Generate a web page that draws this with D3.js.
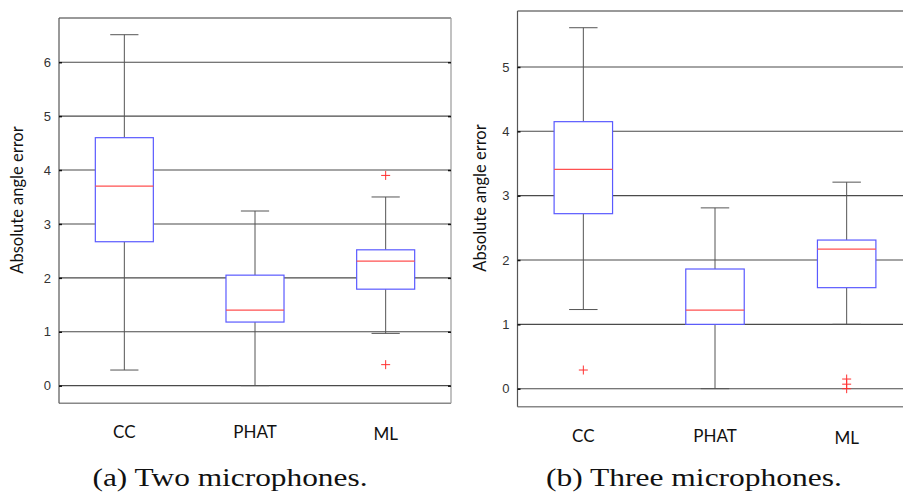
<!DOCTYPE html>
<html>
<head>
<meta charset="utf-8">
<script src="https://cdn.jsdelivr.net/npm/d3@7"></script>
<style>
  body { margin:0; background:#fff; }
  svg { display:block; }
</style>
</head>
<body>
<div id="canvas"></div>
<script>
// categories shared by both panels
var categories = ['CC','PHAT','ML'];

// (a) two microphones - box stats
var twoLow     = [0.29, 0.00, 0.97];
var twoQ1      = [2.67, 1.18, 1.79];
var twoMedian  = [3.70, 1.40, 2.31];
var twoQ3      = [4.60, 2.05, 2.52];
var twoHigh    = [6.51, 3.24, 3.50];
var twoOutliers = [[], [], [3.90, 0.39]];
var twoTicks   = [0,1,2,3,4,5,6];

// (b) three microphones
var threeLow     = [1.23, 0.00, 1.00];
var threeQ1      = [2.72, 1.00, 1.57];
var threeMedian  = [3.41, 1.22, 2.17];
var threeQ3      = [4.15, 1.86, 2.31];
var threeHigh    = [5.61, 2.81, 3.21];
var threeOutliers = [[0.29], [], [0.15, 0.07, 0.00]];
var threeTicks   = [0,1,2,3,4,5];

var W = 903, H = 492;
var svg = d3.select('#canvas').append('svg')
    .attr('width', W).attr('height', H);

function rows(low,q1,med,q3,high,out){
    return categories.map(function(c,i){
        return {name:c, pos:i+1, low:low[i], q1:q1[i], med:med[i], q3:q3[i], high:high[i], out:out[i]};
    });
}

function drawPanel(opt){
    var data = opt.data;
    var x = d3.scaleLinear().domain([0.5,3.5]).range([opt.l, opt.l+opt.w]);
    var y = d3.scaleLinear().domain(opt.yDomain).range([opt.t+opt.h, opt.t]);
    var g = svg.append('g');

    // grid lines
    g.selectAll('line.grid').data(opt.ticks).enter().append('line')
        .attr('class','grid')
        .attr('x1', opt.l).attr('x2', opt.l+opt.w)
        .attr('y1', function(d){return y(d);}).attr('y2', function(d){return y(d);})
        .style('stroke','#4a4a4a').style('stroke-width',1.1);

    // frame
    g.append('line').attr('x1',opt.l).attr('x2',opt.l+opt.w).attr('y1',opt.t).attr('y2',opt.t)
        .style('stroke','#777').style('stroke-width',1.3);
    g.append('line').attr('x1',opt.l).attr('x2',opt.l+opt.w).attr('y1',opt.t+opt.h).attr('y2',opt.t+opt.h)
        .style('stroke','#888').style('stroke-width',1.5);
    g.append('line').attr('x1',opt.l).attr('x2',opt.l).attr('y1',opt.t).attr('y2',opt.t+opt.h)
        .style('stroke','#555').style('stroke-width',1.2);
    g.append('line').attr('x1',opt.l+opt.w).attr('x2',opt.l+opt.w).attr('y1',opt.t).attr('y2',opt.t+opt.h)
        .style('stroke','#999').style('stroke-width',1.2);

    // y axis (ticks inward, labels outside)
    var axisL = d3.axisLeft(y).tickValues(opt.ticks).tickFormat(d3.format('d'))
        .tickSizeInner(-3).tickSizeOuter(0).tickPadding(8);
    var ax = g.append('g').attr('transform','translate('+opt.l+',0)').call(axisL);
    ax.select('.domain').remove();
    ax.selectAll('line').style('stroke','#111').style('stroke-width',1.5);
    ax.selectAll('text').style('font-family','"Liberation Sans Narrow","Liberation Sans",Arial,sans-serif')
        .style('font-size','13px').style('fill','#333');
    var axisR = d3.axisRight(y).tickValues(opt.ticks).tickSizeInner(-3).tickSizeOuter(0).tickFormat('');
    var ar = g.append('g').attr('transform','translate('+(opt.l+opt.w)+',0)').call(axisR);
    ar.select('.domain').remove();
    ar.selectAll('line').style('stroke','#111').style('stroke-width',1.5);

    var box = g.selectAll('g.box').data(data).enter().append('g').attr('class','box');
    // whiskers
    box.append('line')
        .attr('x1',function(d){return x(d.pos);}).attr('x2',function(d){return x(d.pos);})
        .attr('y1',function(d){return y(d.q3);}).attr('y2',function(d){return y(d.high);})
        .style('stroke','#555');
    box.append('line')
        .attr('x1',function(d){return x(d.pos);}).attr('x2',function(d){return x(d.pos);})
        .attr('y1',function(d){return y(d.q1);}).attr('y2',function(d){return y(d.low);})
        .style('stroke','#555');
    box.append('line')
        .attr('x1',function(d){return x(d.pos-0.108);}).attr('x2',function(d){return x(d.pos+0.108);})
        .attr('y1',function(d){return y(d.high);}).attr('y2',function(d){return y(d.high);})
        .style('stroke','#555');
    box.append('line')
        .attr('x1',function(d){return x(d.pos-0.108);}).attr('x2',function(d){return x(d.pos+0.108);})
        .attr('y1',function(d){return y(d.low);}).attr('y2',function(d){return y(d.low);})
        .style('stroke','#555');
    // box
    box.append('rect')
        .attr('x',function(d){return x(d.pos-0.222);})
        .attr('width',function(d){return x(d.pos+0.222)-x(d.pos-0.222);})
        .attr('y',function(d){return y(d.q3);})
        .attr('height',function(d){return y(d.q1)-y(d.q3);})
        .style('fill','#fff').style('stroke','#5a5aff').style('stroke-width',1.2);
    // median
    box.append('line')
        .attr('x1',function(d){return x(d.pos-0.222);}).attr('x2',function(d){return x(d.pos+0.222);})
        .attr('y1',function(d){return y(d.med);}).attr('y2',function(d){return y(d.med);})
        .style('stroke','#ff5050').style('stroke-width',1.2);
    // outliers
    box.each(function(d){
        var s = d3.select(this);
        d.out.forEach(function(v){
            var cx = x(d.pos), cy = y(v);
            s.append('path').attr('d','M'+(cx-4.5)+','+cy+'H'+(cx+4.5)+'M'+cx+','+(cy-4.5)+'V'+(cy+4.5))
                .style('stroke','#ff3030').style('stroke-width',1);
        });
    });

    // category labels
    g.selectAll('text.cat').data(data).enter().append('text')
        .attr('class','cat')
        .attr('x',function(d){return x(d.pos);})
        .attr('y',function(d){return d.name==='ML' ? opt.t+opt.h+37 : opt.t+opt.h+35;})
        .attr('text-anchor','middle')
        .style('font-family','Lato, "Open Sans", sans-serif').style('font-size','17px').style('fill','#111')
        .text(function(d){return d.name;});

    // y label
    g.append('text')
        .attr('transform','translate('+opt.ylx+','+opt.yly+') rotate(-90)')
        .attr('text-anchor','middle')
        .style('font-family','Lato, "Open Sans", sans-serif').style('font-size','16.5px').style('fill','#111')
        .text('Absolute angle error');

    // caption
    svg.append('text')
        .attr('x',opt.capX).attr('y',486)
        .attr('text-anchor','middle')
        .attr('textLength',opt.capW).attr('lengthAdjust','spacingAndGlyphs')
        .style('font-family','"Liberation Serif","DejaVu Serif",serif').style('font-size','25px').style('fill','#111')
        .text(opt.caption);
}

drawPanel({
    data: rows(twoLow,twoQ1,twoMedian,twoQ3,twoHigh,twoOutliers),
    ticks: twoTicks, yDomain: [-0.327, 6.82],
    l: 59, t: 18, w: 392, h: 385.3,
    ylx: 23, yly: 200,
    capX: 230, capW: 275, caption: '(a) Two microphones.'
});

drawPanel({
    data: rows(threeLow,threeQ1,threeMedian,threeQ3,threeHigh,threeOutliers),
    ticks: threeTicks, yDomain: [-0.28, 5.87],
    l: 517.5, t: 11, w: 395, h: 395.7,
    ylx: 486, yly: 198,
    capX: 694, capW: 296, caption: '(b) Three microphones.'
});
</script>
</body>
</html>
